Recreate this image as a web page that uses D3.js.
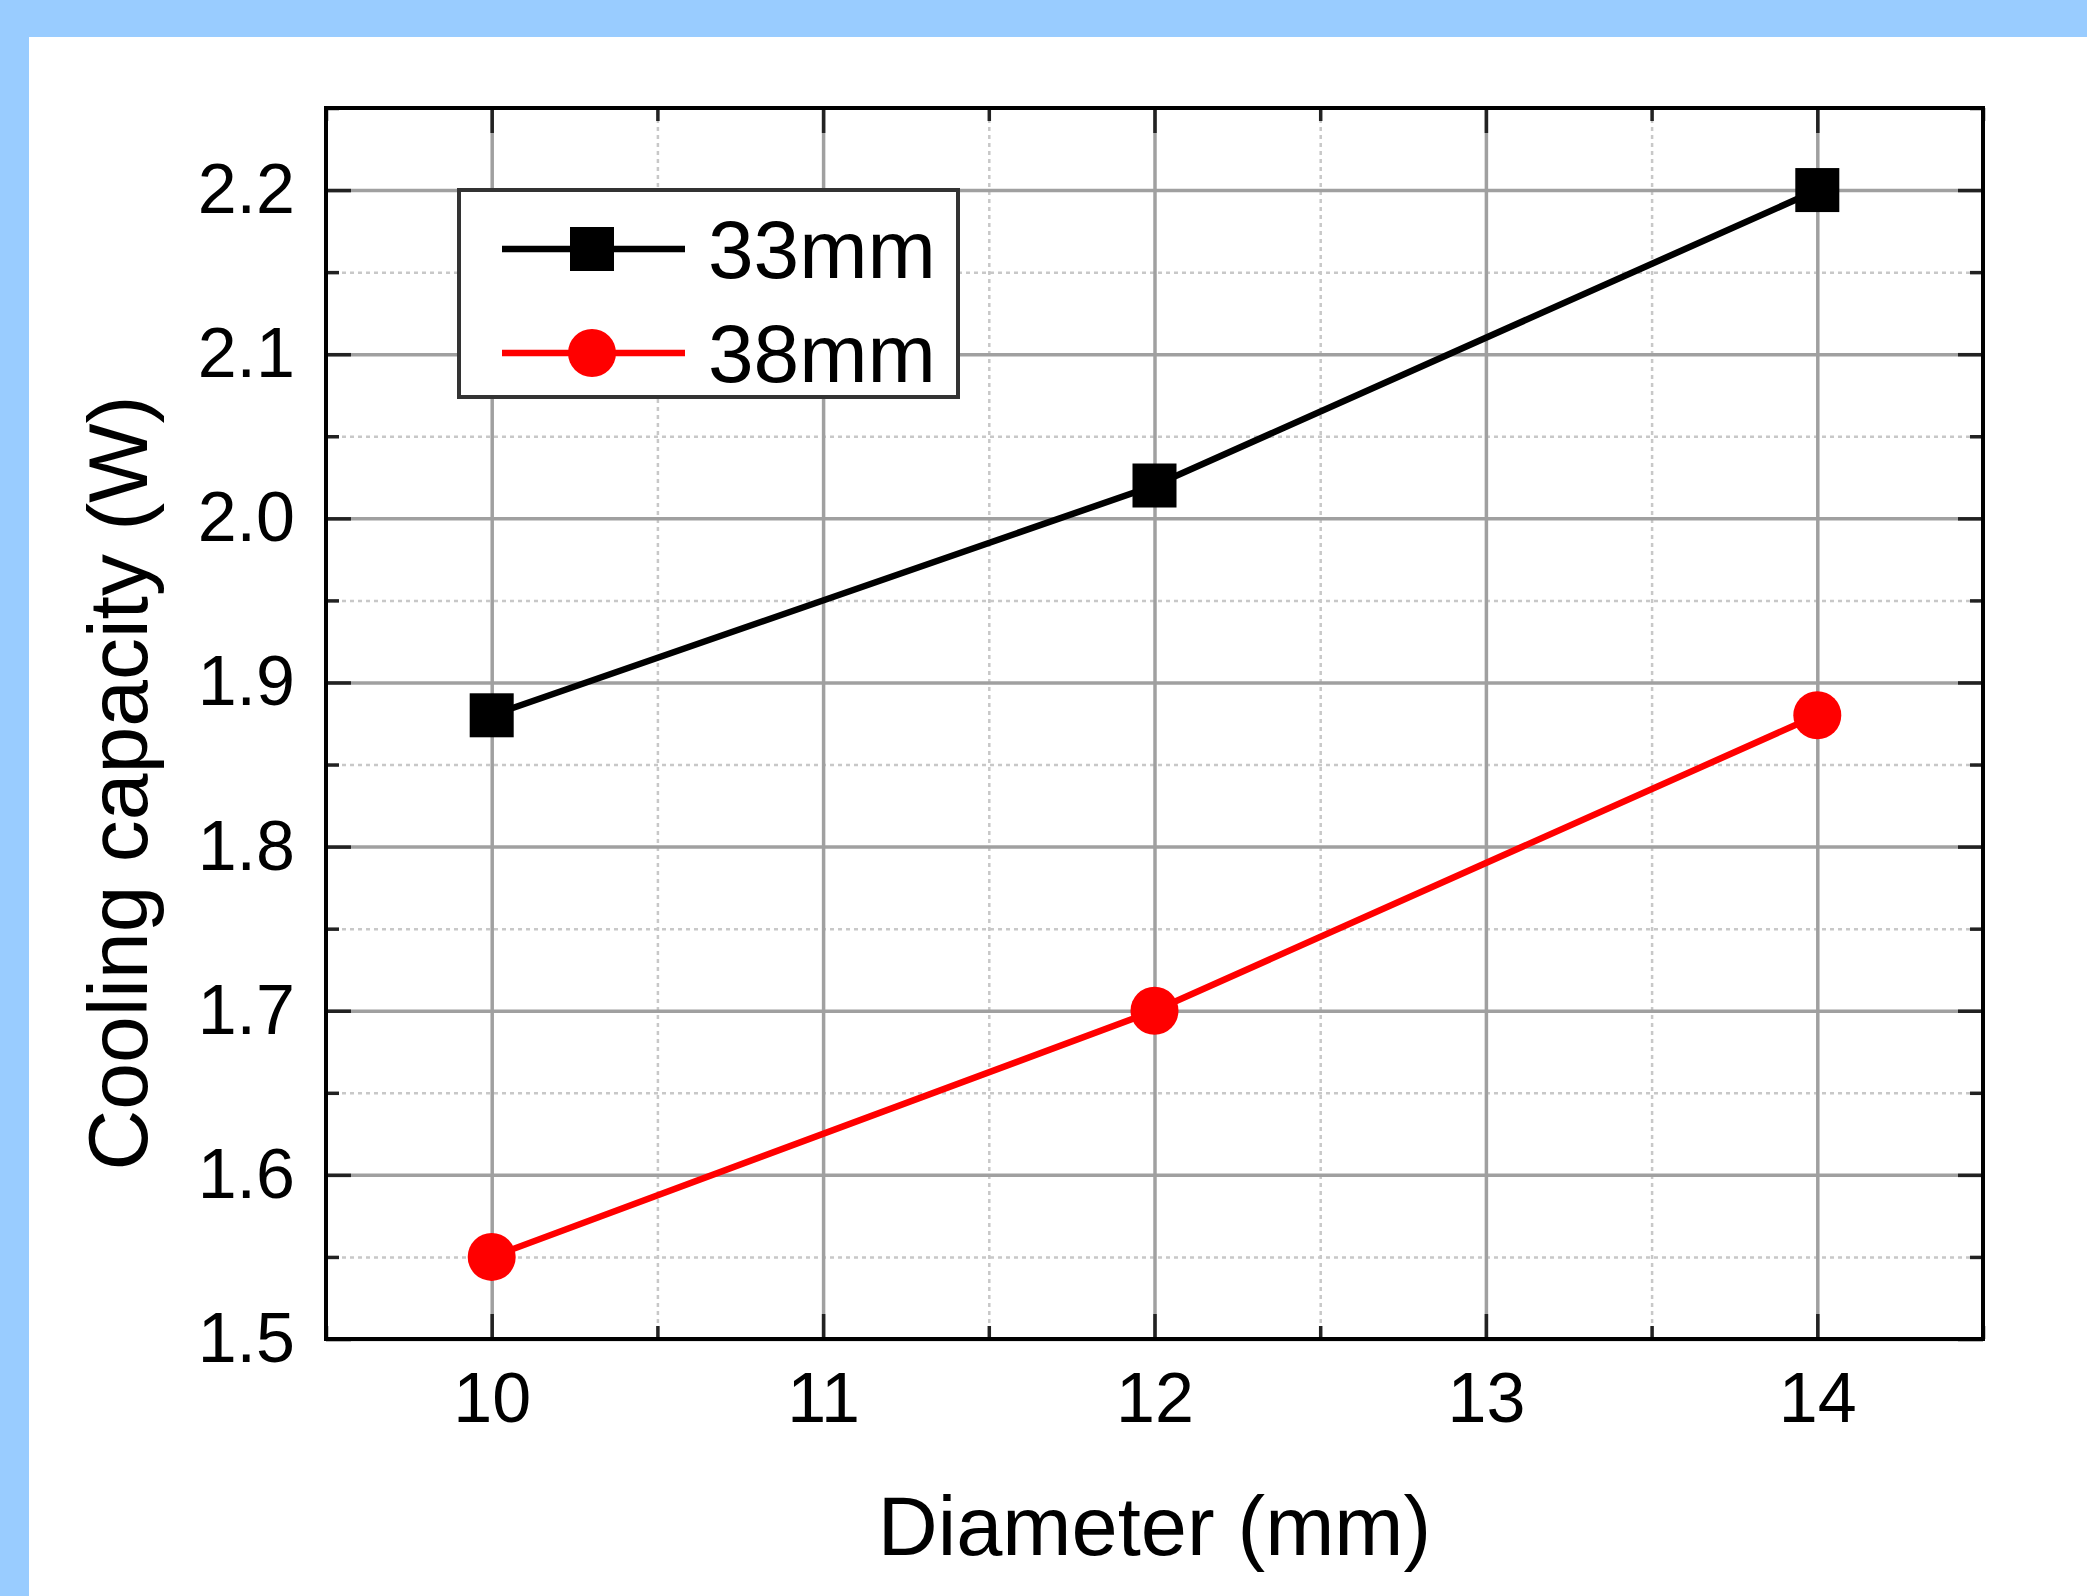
<!DOCTYPE html>
<html>
<head>
<meta charset="utf-8">
<script src="https://cdn.jsdelivr.net/npm/d3@7"></script>
<style>
  html, body { margin: 0; padding: 0; background: #99ccff; }
  #chart { position: absolute; left: 29px; top: 37px; width: 2058px; height: 1559px; background: #fff; }
  text { font-family: "Liberation Sans", Arial, sans-serif; fill: #000; }
</style>
</head>
<body>
<div id="chart"></div>
<script>
const diameters = [10, 12, 14];
const cap33 = [1.88, 2.02, 2.20];
const cap38 = [1.55, 1.70, 1.88];
const seriesNames = ["33mm", "38mm"];
const seriesColors = ["#000000", "#ff0000"];
const xTicks = [10, 11, 12, 13, 14];
const xMinor = [9.5, 10.5, 11.5, 12.5, 13.5, 14.5];
const yTicks = [1.5, 1.6, 1.7, 1.8, 1.9, 2.0, 2.1, 2.2];
const yMinor = [1.55, 1.65, 1.75, 1.85, 1.95, 2.05, 2.15, 2.25];

const svg = d3.select("#chart").append("svg").attr("width", 2058).attr("height", 1559);
// plot box in page coords: 326..1983 x 108..1339
const margin = {left: 297, top: 71};
const width = 1657, height = 1231;
const g = svg.append("g").attr("transform", `translate(${margin.left},${margin.top})`);

const x = d3.scaleLinear().domain([9.5, 14.5]).range([0, width]);
const y = d3.scaleLinear().domain([1.5, 2.25]).range([height, 0]);

// minor grid (dotted)
g.append("g").attr("transform", `translate(0,${height})`)
    .call(d3.axisBottom(x).tickValues(xMinor).tickSize(-height).tickFormat(""))
    .call(a => a.select(".domain").remove())
    .selectAll("line").attr("stroke", "#c8c8c8").attr("stroke-width", 2.5).attr("stroke-dasharray", "4,4");
g.append("g")
    .call(d3.axisLeft(y).tickValues(yMinor).tickSize(-width).tickFormat(""))
    .call(a => a.select(".domain").remove())
    .selectAll("line").attr("stroke", "#c8c8c8").attr("stroke-width", 2.5).attr("stroke-dasharray", "4,4");

// major grid
g.append("g").attr("transform", `translate(0,${height})`)
    .call(d3.axisBottom(x).tickValues(xTicks).tickSize(-height).tickFormat(""))
    .call(a => a.select(".domain").remove())
    .selectAll("line").attr("stroke", "#a0a0a0").attr("stroke-width", 3.5);
g.append("g")
    .call(d3.axisLeft(y).tickValues(yTicks).tickSize(-width).tickFormat(""))
    .call(a => a.select(".domain").remove())
    .selectAll("line").attr("stroke", "#a0a0a0").attr("stroke-width", 3.5);

// inward ticks on all sides
const tickStyle = sel => {
    sel.select(".domain").remove();
    sel.selectAll("line").attr("stroke", "#222").attr("stroke-width", 3.5);
};
const xAxis = g.append("g").attr("transform", `translate(0,${height})`)
    .call(d3.axisBottom(x).tickValues(xTicks).tickSize(-25).tickPadding(33).tickFormat(d3.format("d")))
    .call(tickStyle);
xAxis.selectAll("text").attr("font-size", 70).attr("fill", "#000");
g.append("g").attr("transform", `translate(0,${height})`)
    .call(d3.axisBottom(x).tickValues(xMinor).tickSize(-13).tickFormat("")).call(tickStyle);
g.append("g").call(d3.axisTop(x).tickValues(xTicks).tickSize(-25).tickFormat("")).call(tickStyle);
g.append("g").call(d3.axisTop(x).tickValues(xMinor).tickSize(-13).tickFormat("")).call(tickStyle);

const yAxis = g.append("g")
    .call(d3.axisLeft(y).tickValues(yTicks).tickSize(-25).tickPadding(31).tickFormat(d3.format(".1f")))
    .call(tickStyle);
yAxis.selectAll("text").attr("font-size", 70).attr("fill", "#000");
g.append("g").call(d3.axisLeft(y).tickValues(yMinor).tickSize(-13).tickFormat("")).call(tickStyle);
g.append("g").attr("transform", `translate(${width},0)`)
    .call(d3.axisRight(y).tickValues(yTicks).tickSize(-25).tickFormat("")).call(tickStyle);
g.append("g").attr("transform", `translate(${width},0)`)
    .call(d3.axisRight(y).tickValues(yMinor).tickSize(-13).tickFormat("")).call(tickStyle);

// frame
g.append("rect").attr("width", width).attr("height", height)
    .attr("fill", "none").attr("stroke", "#000").attr("stroke-width", 4);

// series
const series = [cap33, cap38].map((vals, i) => ({
    name: seriesNames[i],
    color: seriesColors[i],
    points: diameters.map((d, j) => ({x: d, y: vals[j]}))
}));
const line = d3.line().x(d => x(d.x)).y(d => y(d.y));

series.forEach((s, i) => {
    g.append("path").datum(s.points)
        .attr("d", line).attr("fill", "none")
        .attr("stroke", s.color).attr("stroke-width", 6.5);
    if (i === 0) {
        g.selectAll(".sq").data(s.points).enter().append("rect")
            .attr("x", d => x(d.x) - 22).attr("y", d => y(d.y) - 22)
            .attr("width", 44).attr("height", 44).attr("fill", s.color);
    } else {
        g.selectAll(".ci").data(s.points).enter().append("circle")
            .attr("cx", d => x(d.x)).attr("cy", d => y(d.y))
            .attr("r", 24).attr("fill", s.color);
    }
});

// legend
const legend = g.append("g").attr("transform", `translate(${459 - 326},${190 - 108})`);
legend.append("rect").attr("width", 499).attr("height", 207)
    .attr("fill", "#fff").attr("stroke", "#333").attr("stroke-width", 4);
series.forEach((s, i) => {
    const row = legend.append("g").attr("transform", `translate(0,${59 + i * 104})`);
    row.append("line").attr("x1", 43).attr("x2", 226).attr("y1", 0).attr("y2", 0)
        .attr("stroke", s.color).attr("stroke-width", 6.5);
    if (i === 0) {
        row.append("rect").attr("x", 133 - 22).attr("y", -22).attr("width", 44).attr("height", 44).attr("fill", s.color);
    } else {
        row.append("circle").attr("cx", 133).attr("cy", 0).attr("r", 24).attr("fill", s.color);
    }
    row.append("text").attr("x", 249).attr("y", 29).attr("font-size", 82).text(s.name);
});

// axis titles
g.append("text").attr("x", width / 2).attr("y", 1555 - 108)
    .attr("text-anchor", "middle").attr("font-size", 83).text("Diameter (mm)");
g.append("text").attr("transform", `translate(${147 - 326},${783 - 108}) rotate(-90)`)
    .attr("text-anchor", "middle").attr("font-size", 84).text("Cooling capacity (W)");
</script>
</body>
</html>
